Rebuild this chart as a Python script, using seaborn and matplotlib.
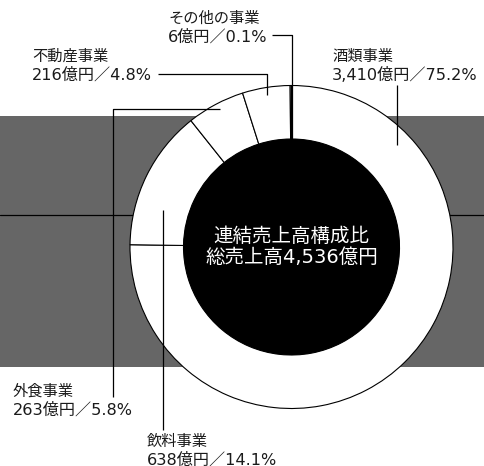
import matplotlib
matplotlib.use("Agg")
import matplotlib.pyplot as plt
import seaborn as sns
from matplotlib.patches import Rectangle, Circle

sns.set_theme(style="white")
plt.rcParams["font.family"] = ["DejaVu Sans", "Noto Sans CJK JP"]

# Consolidated sales by segment (億円) and share (%)
segments = ["酒類事業", "飲料事業", "外食事業", "不動産事業", "その他の事業"]
sales_oku = [3410, 638, 263, 216, 6]
share_pct = [75.2, 14.1, 5.8, 4.8, 0.1]
total_oku = 4536
center_title = "連結売上高構成比"

W, H = 484, 466
fig = plt.figure(figsize=(W / 100, H / 100), dpi=100)
ax = fig.add_axes([0, 0, 1, 1])

cx, cy = 291.5, 247.0
r_out, r_in = 161.5, 108.0

# grey band behind the ring and a thin rule across it
ax.add_patch(Rectangle((0, 116), W, 251, facecolor="#666666", edgecolor="none", zorder=0))
ax.plot([0, W], [215, 215], color="black", lw=0.9, zorder=1)

# ring: y axis is inverted below, so clockwise from 12 o'clock becomes
# counter-clockwise from -90 degrees in data space
colors = ["white"] * len(sales_oku)
ax.pie(sales_oku, colors=colors, startangle=-90, counterclock=True,
       radius=r_out, center=(cx, cy),
       wedgeprops=dict(width=r_out - r_in, edgecolor="black", linewidth=0.8))
for w in ax.patches[1:]:
    w.set_zorder(2)

ax.add_patch(Circle((cx, cy), r_in, facecolor="black", edgecolor="none", zorder=3))

ax.set_xlim(0, W)
ax.set_ylim(H, 0)
ax.set_aspect("auto")
ax.axis("off")

# leader lines
lk = dict(color="black", lw=0.9, zorder=4, solid_capstyle="butt")
ax.plot([272, 292, 292], [35, 35, 140], **lk)          # その他
ax.plot([158, 267, 267], [74, 74, 95], **lk)           # 不動産
ax.plot([397, 397], [85, 145], **lk)                   # 酒類
ax.plot([220, 113, 113], [109, 109, 397], **lk)        # 外食
ax.plot([163, 163], [210, 430], **lk)                  # 飲料

def label(x, y, idx):
    name = segments[idx]
    val = f"{sales_oku[idx]:,}億円／{share_pct[idx]}%"
    ax.text(x, y, name, fontsize=11, color="#1a1a1a", ha="left", va="center", zorder=5)
    ax.text(x, y + 18.5, val, fontsize=11.6, color="#1a1a1a", ha="left", va="center", zorder=5)

label(332, 56, 0)
label(147, 441, 1)
label(13, 391, 2)
label(32, 56, 3)
label(168, 18.5, 4)

ax.text(cx, 236.5, center_title, fontsize=14, color="white", ha="center", va="center", zorder=5)
ax.text(cx, 257.5, f"総売上高{total_oku:,}億円", fontsize=14, color="white",
        ha="center", va="center", zorder=5)

fig.savefig("out.png", dpi=100, facecolor="white")
